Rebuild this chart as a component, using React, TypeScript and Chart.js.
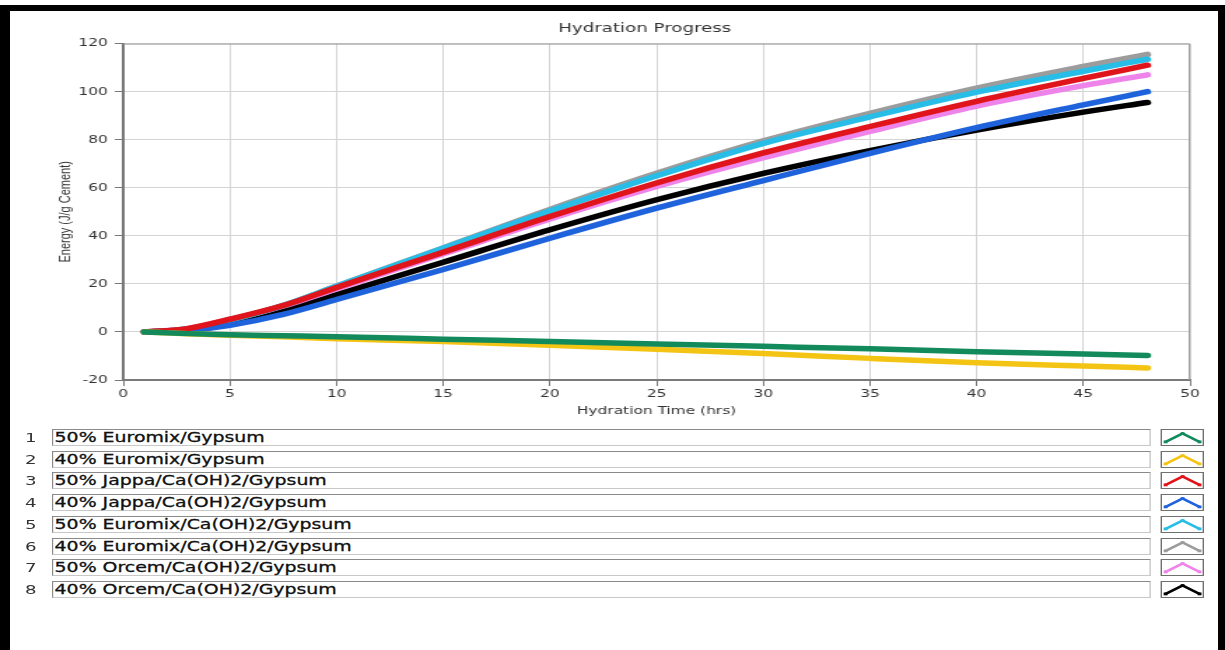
import React, { useEffect, useRef } from "react";
import { Chart, registerables } from "chart.js";

Chart.register(...registerables);

// ---- data ----
const hours = [1, 3, 5, 7.5, 10, 15, 20, 25, 30, 35, 40, 45, 48];

const euromixGypsum50 = [0, -0.7, -1.2, -1.6, -2, -3, -4, -5, -6, -7, -8.2, -9.2, -9.8];
const euromixGypsum40 = [0, -0.8, -1.4, -2, -2.8, -4, -5.5, -7.2, -9, -11, -12.8, -14.2, -15];
const jappaCa50 = [0, 1.4, 5.3, 11, 18.5, 33.2, 48, 62, 74.5, 85.5, 96, 105.5, 111];
const jappaCa40 = [0, 0.6, 2.8, 7.3, 13.5, 26, 39, 51.5, 63, 74.3, 85, 94.5, 100];
const euromixCa50 = [0, 1.2, 5, 11, 19, 34.8, 50.3, 65, 78.5, 89.5, 99.8, 108.5, 113.5];
const euromixCa40 = [0, 1.2, 5, 11, 19, 35, 51, 66, 79.5, 91, 101.5, 110.5, 115.5];
const orcemCa50 = [0, 1.4, 5.2, 10.8, 18, 32.5, 47, 60.5, 72.5, 83.5, 94, 102.5, 107];
const orcemCa40 = [0, 0.9, 3.6, 8.8, 15.5, 29, 42.5, 55, 66, 75.5, 84, 91.5, 95.5];

const seriesValues = [
  euromixGypsum50,
  euromixGypsum40,
  jappaCa50,
  jappaCa40,
  euromixCa50,
  euromixCa40,
  orcemCa50,
  orcemCa40,
];

const seriesLabels = [
  "50% Euromix/Gypsum",
  "40% Euromix/Gypsum",
  "50% Jappa/Ca(OH)2/Gypsum",
  "40% Jappa/Ca(OH)2/Gypsum",
  "50% Euromix/Ca(OH)2/Gypsum",
  "40% Euromix/Ca(OH)2/Gypsum",
  "50% Orcem/Ca(OH)2/Gypsum",
  "40% Orcem/Ca(OH)2/Gypsum",
];

const seriesColors = [
  "#128a5c",
  "#f3c414",
  "#e0141b",
  "#1f63dc",
  "#28bde6",
  "#9c9c9c",
  "#ee84ea",
  "#000000",
];

const chartTitle = "Hydration Progress";
const xAxisTitle = "Hydration Time (hrs)";
const yAxisTitle = "Energy (J/g Cement)";
const xMin = 0;
const xMax = 50;
const xStep = 5;
const yMin = -20;
const yMax = 120;
const yStep = 20;

const STRETCH = 1.4;

const plotFrame = {
  id: "plotFrame",
  beforeDatasetsDraw(chart: any) {
    const { ctx, chartArea } = chart;
    ctx.save();
    ctx.strokeStyle = "#9a9a9a";
    ctx.lineWidth = 1;
    ctx.beginPath();
    ctx.moveTo(chartArea.left, chartArea.top + 0.5);
    ctx.lineTo(chartArea.right - 0.5, chartArea.top + 0.5);
    ctx.lineTo(chartArea.right - 0.5, chartArea.bottom);
    ctx.stroke();
    ctx.restore();
  },
};

function LegendIcon({ color }: { color: string }) {
  return (
    <svg width="100%" height="100%" viewBox="0 0 30 15" preserveAspectRatio="none" style={{ display: "block" }}>
      <polyline points="2.5,12 15,3.5 27.5,12" fill="none" stroke={color} strokeWidth={2.4} strokeLinejoin="round" />
      <rect x={1.2} y={10.5} width={2.8} height={2.8} fill={color} />
      <rect x={13.6} y={2.2} width={2.8} height={2.8} fill={color} />
      <rect x={26} y={10.5} width={2.8} height={2.8} fill={color} />
    </svg>
  );
}

export default function App() {
  const canvasRef = useRef<HTMLCanvasElement>(null);

  useEffect(() => {
    if (!canvasRef.current) return;
    const tickFont = { family: "DejaVu Sans", size: 11 };
    const chart = new Chart(canvasRef.current, {
      type: "line",
      data: {
        datasets: seriesLabels.map((label, i) => ({
          label,
          data: hours.map((h, j) => ({ x: h, y: seriesValues[i][j] })),
          borderColor: seriesColors[i],
          backgroundColor: seriesColors[i],
          borderWidth: 5.5,
          pointRadius: 0,
          cubicInterpolationMode: "monotone" as const,
          borderCapStyle: "round" as const,
          borderJoinStyle: "round" as const,
          fill: false,
        })),
      },
      options: {
        responsive: false,
        animation: false,
        devicePixelRatio: 1,
        layout: { padding: 0 },
        plugins: {
          legend: { display: false },
          tooltip: { enabled: false },
          title: {
            display: true,
            text: chartTitle,
            color: "#333333",
            font: { family: "DejaVu Sans", size: 13, weight: "normal" },
            padding: { top: 21, bottom: 7 },
          },
        },
        scales: {
          x: {
            type: "linear",
            min: xMin,
            max: xMax,
            ticks: {
              stepSize: xStep,
              color: "#333333",
              font: tickFont,
              padding: 2,
              maxRotation: 0,
            },
            grid: { color: "#d4d4d4", tickColor: "#777777", tickLength: 6, lineWidth: 1 },
            border: { color: "#7a7a7a", width: 2 },
            title: {
              display: true,
              text: xAxisTitle,
              color: "#333333",
              font: { family: "DejaVu Sans", size: 11 },
              padding: { top: 0, bottom: 12 },
            },
            afterFit: (s: any) => {
              s.height = 50;
            },
          },
          y: {
            type: "linear",
            min: yMin,
            max: yMax,
            ticks: {
              stepSize: yStep,
              color: "#333333",
              font: tickFont,
              padding: 5,
            },
            grid: { color: "#d4d4d4", tickColor: "#777777", tickLength: 6, lineWidth: 1 },
            border: { color: "#7a7a7a", width: 2 },
            title: {
              display: true,
              text: yAxisTitle,
              color: "#333333",
              font: { family: "Liberation Sans", size: 11 },
              padding: { top: 40, bottom: 0 },
            },
            afterFit: (s: any) => {
              s.width = 88;
            },
          },
          spacer: {
            type: "linear",
            position: "right",
            display: true,
            grid: { display: false, drawTicks: false },
            ticks: { display: false },
            border: { display: false },
            afterFit: (s: any) => {
              s.width = 71;
            },
          },
        },
      } as any,
      plugins: [plotFrame],
    });
    return () => chart.destroy();
  }, []);

  const rowTop = (i: number) => 429 + i * 21.7;

  return (
    <div
      style={{
        position: "absolute",
        left: 0,
        top: 0,
        width: 1225,
        height: 650,
        overflow: "hidden",
        background: "#ffffff",
      }}
    >
      <div
        style={{
          position: "absolute",
          left: 0,
          top: 5,
          width: 1225,
          height: 645,
          boxSizing: "border-box",
          borderTop: "6px solid #000",
          borderLeft: "10px solid #000",
          borderRight: "7px solid #000",
        }}
      />
      <div
        style={{
          position: "absolute",
          left: 0,
          top: 0,
          width: 1225 / STRETCH,
          height: 650,
          transform: `scaleX(${STRETCH})`,
          transformOrigin: "0 0",
        }}
      >
        <canvas
          ref={canvasRef}
          width={921}
          height={430}
          style={{ position: "absolute", left: 0, top: 0 }}
        />
        {seriesLabels.map((label, i) => (
          <React.Fragment key={label}>
            <div
              style={{
                position: "absolute",
                left: 14,
                top: rowTop(i),
                width: 16,
                height: 17,
                lineHeight: "17px",
                textAlign: "center",
                fontFamily: "DejaVu Sans",
                fontSize: 13,
                color: "#333",
              }}
            >
              {i + 1}
            </div>
            <div
              style={{
                position: "absolute",
                left: 37,
                top: rowTop(i),
                width: 785,
                height: 17,
                boxSizing: "border-box",
                borderTop: "1px solid #8a8a8a",
                borderLeft: "1px solid #8a8a8a",
                borderRight: "1px solid #c8c8c8",
                borderBottom: "1px solid #c8c8c8",
                background: "#fff",
                paddingLeft: 1,
                lineHeight: "15px",
                fontFamily: "DejaVu Sans",
                fontSize: 13.5,
                color: "#111",
                whiteSpace: "nowrap",
                WebkitTextStroke: "0.3px #111",
              }}
            >
              {label}
            </div>
            <div
              style={{
                position: "absolute",
                left: 828.6,
                top: rowTop(i),
                width: 31.4,
                height: 17,
                boxSizing: "border-box",
                border: "1px solid #707070",
                background: "#fff",
              }}
            >
              <LegendIcon color={seriesColors[i]} />
            </div>
          </React.Fragment>
        ))}
      </div>
    </div>
  );
}
